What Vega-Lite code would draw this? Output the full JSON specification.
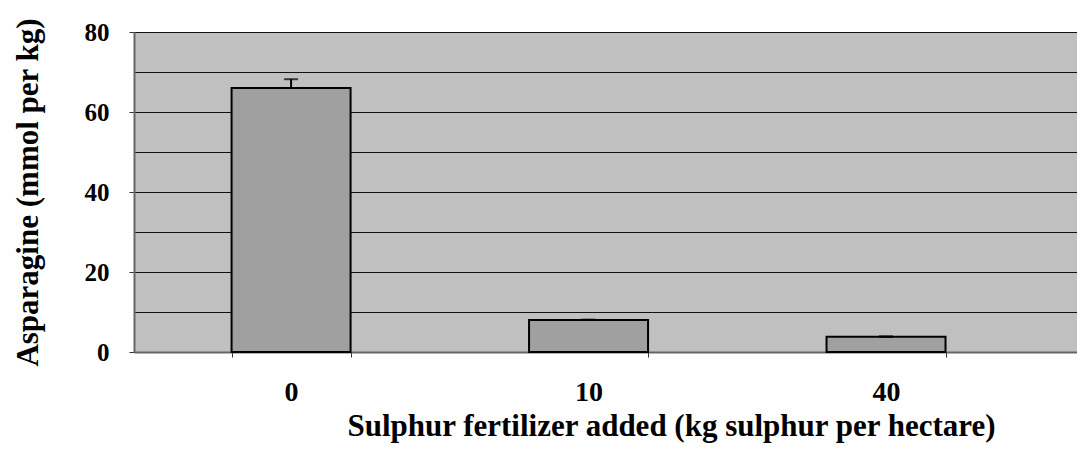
{
  "$schema": "https://vega.github.io/schema/vega-lite/v6.json",
  "width": 943,
  "height": 320,
  "autosize": {"type": "none"},
  "padding": {"left": 134, "top": 32, "right": 0, "bottom": 98},
  "background": "white",
  "config": {
    "view": {"fill": "#C0C0C0", "stroke": null},
    "font": "Liberation Serif"
  },
  "data": {
    "values": [
      {"sulphur": "0", "asparagine": 66, "upper": 68.2},
      {"sulphur": "10", "asparagine": 8, "upper": 8.1},
      {"sulphur": "40", "asparagine": 3.8, "upper": 3.9}
    ]
  },
  "encoding": {
    "x": {
      "field": "sulphur",
      "type": "ordinal",
      "sort": ["0", "10", "40"],
      "scale": {"paddingInner": 0.6, "paddingOuter": 0.385, "align": 0.426},
      "axis": {
        "title": "Sulphur fertilizer added (kg sulphur per hectare)",
        "titleFont": "Liberation Serif",
        "titleFontSize": 31,
        "titleFontWeight": "bold",
        "titleColor": "black",
        "titleX": 537,
        "titleY": 59,
        "titleBaseline": "top",
        "titleAlign": "center",
        "labelAngle": 0,
        "labelFont": "Liberation Serif",
        "labelFontSize": 28,
        "labelFontWeight": "bold",
        "labelColor": "black",
        "labelPadding": 21,
        "tickBand": "extent",
        "tickColor": "#333333",
        "tickSize": 5,
        "domainColor": "#666666",
        "domainWidth": 2,
        "grid": false
      }
    },
    "y": {
      "field": "asparagine",
      "type": "quantitative",
      "scale": {"domain": [0, 80], "nice": false},
      "axis": {
        "title": "Asparagine (mmol per kg)",
        "titleFont": "Liberation Serif",
        "titleFontSize": 31,
        "titleFontWeight": "bold",
        "titleColor": "black",
        "titlePadding": 40,
        "values": [0, 10, 20, 30, 40, 50, 60, 70, 80],
        "labelExpr": "datum.value % 20 === 0 ? datum.label : ''",
        "labelFont": "Liberation Serif",
        "labelFontSize": 25,
        "labelFontWeight": "bold",
        "labelColor": "black",
        "labelPadding": 20,
        "tickSize": 5,
        "tickColor": "#333333",
        "tickOpacity": {"condition": {"test": "datum.value % 20 === 0", "value": 1}, "value": 0},
        "domainColor": "#666666",
        "domainWidth": 2,
        "grid": true,
        "gridColor": "#111111",
        "gridWidth": 1,
        "gridOpacity": 1
      }
    }
  },
  "layer": [
    {
      "mark": {"type": "bar", "fill": "#A0A0A0", "stroke": "black", "strokeWidth": 2}
    },
    {
      "mark": {
        "type": "errorbar",
        "color": "black",
        "ticks": {"size": 14, "thickness": 2, "color": "black"},
        "rule": {"strokeWidth": 2, "color": "black"}
      },
      "encoding": {
        "y2": {"field": "upper"}
      }
    }
  ]
}
